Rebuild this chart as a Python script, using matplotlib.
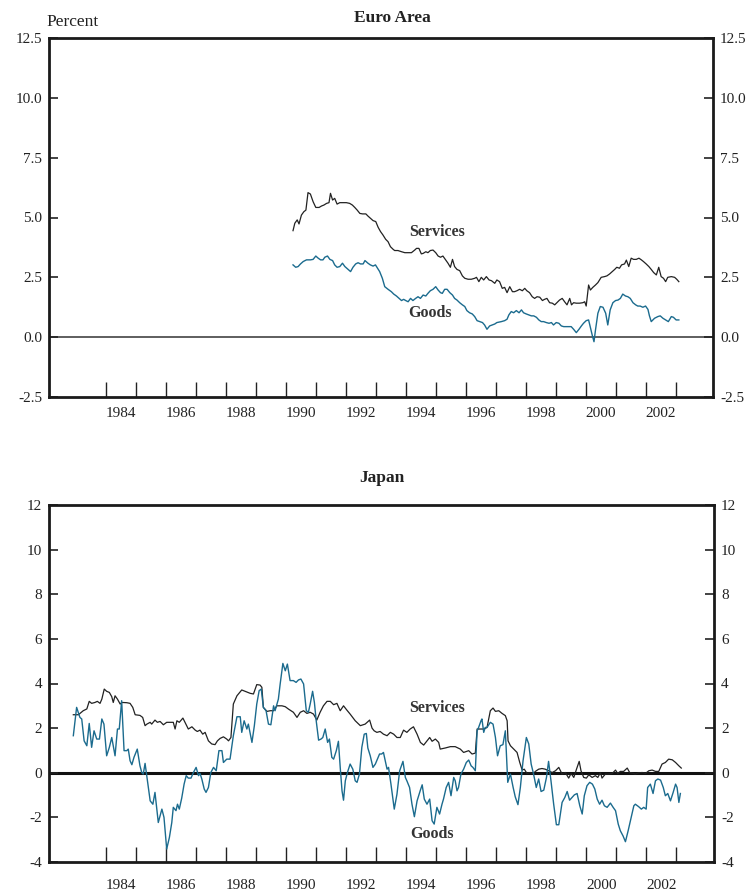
import matplotlib
matplotlib.use("Agg")
import matplotlib.pyplot as plt
from matplotlib.ticker import FixedLocator, FixedFormatter

# ---------------- data ----------------
# Euro Area, services (year, percent)
ea_serv_year = [1990.24, 1990.30, 1990.38, 1990.44, 1990.52, 1990.60, 1990.67, 1990.74, 1990.82, 1990.91,
                1991.00, 1991.11, 1991.19, 1991.27, 1991.36, 1991.44, 1991.49, 1991.56, 1991.63, 1991.71,
                1991.80, 1991.91, 1992.02, 1992.13, 1992.22, 1992.30, 1992.38, 1992.47, 1992.56, 1992.67,
                1992.74, 1992.82, 1992.91, 1993.00, 1993.08, 1993.16, 1993.24, 1993.33, 1993.41, 1993.49,
                1993.58, 1993.63, 1993.74, 1993.86, 1993.97, 1994.08, 1994.19, 1994.30, 1994.36, 1994.44,
                1994.52, 1994.58, 1994.67, 1994.74, 1994.82, 1994.91, 1995.00, 1995.08, 1995.16, 1995.24,
                1995.33, 1995.41, 1995.49, 1995.56, 1995.63, 1995.71, 1995.80, 1995.89, 1995.97, 1996.08,
                1996.19, 1996.30, 1996.36, 1996.44, 1996.52, 1996.60, 1996.69, 1996.78, 1996.86, 1996.97,
                1997.04, 1997.13, 1997.22, 1997.30, 1997.38, 1997.47, 1997.56, 1997.63, 1997.71, 1997.80,
                1997.89, 1997.97, 1998.04, 1998.13, 1998.22, 1998.30, 1998.38, 1998.47, 1998.56, 1998.63,
                1998.71, 1998.80, 1998.89, 1998.97, 1999.04, 1999.13, 1999.22, 1999.30, 1999.38, 1999.47,
                1999.53, 1999.60, 1999.69, 1999.80, 1999.91, 1999.97, 2000.02, 2000.10, 2000.16, 2000.24,
                2000.33, 2000.41, 2000.52, 2000.63, 2000.71, 2000.80, 2000.89, 2000.97, 2001.04, 2001.13,
                2001.20, 2001.30, 2001.36, 2001.44, 2001.52, 2001.60, 2001.69, 2001.78, 2001.86, 2001.93,
                2002.02, 2002.11, 2002.19, 2002.27, 2002.36, 2002.44, 2002.52, 2002.60, 2002.67, 2002.74,
                2002.86, 2002.97, 2003.04, 2003.11]
ea_serv_val = [4.45, 4.76, 4.90, 4.73, 5.10, 5.24, 5.31, 6.04, 5.98, 5.66,
               5.42, 5.42, 5.48, 5.52, 5.59, 5.62, 6.01, 5.73, 5.80, 5.56,
               5.62, 5.62, 5.62, 5.59, 5.52, 5.42, 5.31, 5.17, 5.15, 5.15,
               5.06, 4.97, 4.87, 4.83, 4.59, 4.41, 4.27, 4.09, 3.99, 3.78,
               3.67, 3.62, 3.62, 3.57, 3.53, 3.53, 3.53, 3.64, 3.71, 3.71,
               3.48, 3.50, 3.57, 3.53, 3.62, 3.64, 3.53, 3.39, 3.34, 3.39,
               3.23, 3.09, 2.92, 3.25, 2.95, 2.83, 2.78, 2.56, 2.46, 2.42,
               2.42, 2.46, 2.50, 2.32, 2.50, 2.39, 2.53, 2.39, 2.36, 2.25,
               2.39, 2.32, 2.04, 2.08, 1.86, 2.11, 1.90, 1.90, 1.94, 2.00,
               1.94, 2.04, 1.94, 1.86, 1.69, 1.62, 1.69, 1.67, 1.53, 1.58,
               1.62, 1.44, 1.42, 1.35, 1.44, 1.55, 1.62, 1.48, 1.35, 1.62,
               1.35, 1.44, 1.42, 1.42, 1.44, 1.48, 1.30, 2.18, 1.97, 2.08,
               2.18, 2.28, 2.50, 2.53, 2.56, 2.64, 2.74, 2.83, 2.92, 2.88,
               3.02, 3.06, 3.22, 2.95, 3.30, 3.25, 3.25, 3.30, 3.23, 3.16,
               3.06, 2.95, 2.83, 2.70, 2.60, 2.92, 2.53, 2.46, 2.32, 2.50,
               2.53, 2.50, 2.42, 2.32]

# Euro Area, goods
ea_goods_year = [1990.24, 1990.33, 1990.41, 1990.49, 1990.58, 1990.69, 1990.82, 1990.91, 1991.00, 1991.08,
                 1991.16, 1991.24, 1991.30, 1991.39, 1991.47, 1991.56, 1991.63, 1991.71, 1991.80, 1991.89,
                 1991.97, 1992.08, 1992.16, 1992.24, 1992.33, 1992.41, 1992.49, 1992.58, 1992.64, 1992.74,
                 1992.82, 1992.91, 1992.99, 1993.06, 1993.13, 1993.22, 1993.30, 1993.41, 1993.52, 1993.60,
                 1993.69, 1993.78, 1993.86, 1993.93, 1994.00, 1994.08, 1994.16, 1994.24, 1994.33, 1994.41,
                 1994.49, 1994.58, 1994.67, 1994.74, 1994.82, 1994.91, 1995.00, 1995.08, 1995.16, 1995.22,
                 1995.30, 1995.38, 1995.47, 1995.56, 1995.63, 1995.71, 1995.80, 1995.89, 1995.97, 1996.04,
                 1996.13, 1996.22, 1996.30, 1996.38, 1996.47, 1996.56, 1996.63, 1996.71, 1996.80, 1996.89,
                 1996.97, 1997.04, 1997.19, 1997.30, 1997.38, 1997.44, 1997.52, 1997.60, 1997.69, 1997.78,
                 1997.86, 1997.93, 1998.02, 1998.11, 1998.19, 1998.27, 1998.36, 1998.44, 1998.52, 1998.60,
                 1998.69, 1998.78, 1998.86, 1998.93, 1999.02, 1999.11, 1999.19, 1999.27, 1999.36, 1999.44,
                 1999.52, 1999.60, 1999.69, 1999.78, 1999.86, 1999.93, 2000.02, 2000.10, 2000.16, 2000.22,
                 2000.28, 2000.33, 2000.41, 2000.49, 2000.58, 2000.67, 2000.74, 2000.82, 2000.91, 2001.00,
                 2001.08, 2001.16, 2001.24, 2001.33, 2001.41, 2001.49, 2001.58, 2001.67, 2001.74, 2001.82,
                 2001.91, 2002.00, 2002.08, 2002.13, 2002.19, 2002.30, 2002.41, 2002.49, 2002.58, 2002.67,
                 2002.76, 2002.86, 2002.93, 2003.02, 2003.11]
ea_goods_val = [3.02, 2.92, 2.95, 3.06, 3.16, 3.23, 3.23, 3.25, 3.39, 3.30,
                3.23, 3.23, 3.34, 3.39, 3.25, 3.20, 3.02, 2.92, 2.95, 3.09,
                2.95, 2.83, 2.74, 2.92, 3.06, 3.11, 3.06, 3.06, 3.20, 3.09,
                3.02, 2.97, 3.02, 2.88, 2.74, 2.46, 2.11, 2.00, 1.90, 1.80,
                1.72, 1.62, 1.53, 1.58, 1.53, 1.48, 1.62, 1.53, 1.62, 1.69,
                1.62, 1.76, 1.72, 1.83, 1.94, 2.00, 2.11, 1.97, 1.86, 1.83,
                2.00, 2.00, 1.86, 1.76, 1.62, 1.55, 1.44, 1.35, 1.28, 1.11,
                1.02, 0.97, 0.86, 0.69, 0.65, 0.61, 0.51, 0.33, 0.47, 0.51,
                0.55, 0.61, 0.65, 0.69, 0.75, 0.93, 1.07, 1.02, 1.11, 1.02,
                1.14, 1.02, 0.97, 0.93, 0.89, 0.89, 0.83, 0.72, 0.65, 0.65,
                0.61, 0.58, 0.61, 0.51, 0.61, 0.58, 0.47, 0.44, 0.44, 0.44,
                0.44, 0.33, 0.19, 0.33, 0.47, 0.58, 0.69, 0.72, 0.41, 0.09,
                -0.19, 0.30, 1.00, 1.28, 1.25, 1.00, 0.51, 1.14, 1.44, 1.53,
                1.55, 1.62, 1.80, 1.72, 1.69, 1.62, 1.44, 1.35, 1.30, 1.30,
                1.25, 1.30, 1.16, 0.89, 0.65, 0.79, 0.86, 0.89, 0.79, 0.72,
                0.65, 0.86, 0.83, 0.72, 0.72]

# Japan, services
jp_serv_year = [1982.91, 1983.08, 1983.24, 1983.36, 1983.44, 1983.52, 1983.63, 1983.71, 1983.80, 1983.86,
                1983.94, 1984.02, 1984.11, 1984.19, 1984.24, 1984.30, 1984.38, 1984.47, 1984.53, 1984.69,
                1984.80, 1984.89, 1984.97, 1985.13, 1985.22, 1985.30, 1985.36, 1985.47, 1985.52, 1985.63,
                1985.71, 1985.80, 1985.91, 1986.02, 1986.24, 1986.30, 1986.36, 1986.44, 1986.56, 1986.63,
                1986.74, 1986.86, 1986.97, 1987.04, 1987.13, 1987.22, 1987.30, 1987.41, 1987.52, 1987.63,
                1987.71, 1987.80, 1987.91, 1988.02, 1988.08, 1988.16, 1988.24, 1988.36, 1988.52, 1988.63,
                1988.80, 1988.91, 1989.02, 1989.13, 1989.19, 1989.24, 1989.36, 1989.47, 1989.58, 1989.69,
                1989.86, 1989.97, 1990.08, 1990.24, 1990.36, 1990.47, 1990.58, 1990.69, 1990.80, 1990.91,
                1991.02, 1991.13, 1991.24, 1991.36, 1991.47, 1991.58, 1991.69, 1991.80, 1991.91, 1992.02,
                1992.13, 1992.30, 1992.47, 1992.63, 1992.78, 1992.86, 1992.93, 1993.02, 1993.13, 1993.24,
                1993.36, 1993.47, 1993.58, 1993.69, 1993.80, 1993.91, 1994.02, 1994.13, 1994.24, 1994.36,
                1994.47, 1994.58, 1994.69, 1994.78, 1994.86, 1994.97, 1995.08, 1995.13, 1995.30, 1995.47,
                1995.63, 1995.80, 1995.91, 1996.08, 1996.19, 1996.30, 1996.36, 1996.47, 1996.58, 1996.69,
                1996.80, 1996.89, 1996.97, 1997.08, 1997.19, 1997.30, 1997.36, 1997.39, 1997.47, 1997.58,
                1997.69, 1997.78, 1997.86, 1997.93, 1998.02, 1998.13, 1998.22, 1998.30, 1998.41, 1998.52,
                1998.63, 1998.74, 1998.86, 1998.97, 1999.08, 1999.19, 1999.30, 1999.41, 1999.49, 1999.58,
                1999.67, 1999.76, 1999.82, 1999.91, 2000.00, 2000.08, 2000.19, 2000.30, 2000.38, 2000.47,
                2000.52, 2000.63, 2000.74, 2000.86, 2000.97, 2001.04, 2001.13, 2001.24, 2001.36, 2001.44,
                2001.56, 2001.63, 2001.74, 2001.86, 2001.97, 2002.08, 2002.19, 2002.30, 2002.41, 2002.52,
                2002.63, 2002.74, 2002.86, 2002.97, 2003.08, 2003.16]
jp_serv_val = [2.60, 2.60, 2.78, 2.86, 3.20, 3.11, 3.15, 3.20, 3.11, 3.30,
               3.75, 3.65, 3.60, 3.41, 3.15, 3.45, 3.30, 3.08, 3.15, 3.14,
               3.11, 2.93, 2.60, 2.57, 2.48, 2.11, 2.18, 2.26, 2.18, 2.36,
               2.26, 2.30, 2.15, 2.26, 2.26, 1.96, 2.33, 2.26, 2.45, 2.26,
               1.96, 2.06, 1.91, 1.85, 1.91, 1.73, 1.81, 1.43, 1.29, 1.26,
               1.43, 1.54, 1.61, 1.51, 1.43, 1.58, 3.08, 3.45, 3.71, 3.65,
               3.56, 3.53, 3.95, 3.93, 3.83, 2.93, 2.75, 2.78, 2.78, 3.00,
               3.00, 2.96, 2.85, 2.71, 2.48, 2.71, 2.78, 2.66, 2.71, 2.63,
               2.36, 2.71, 3.00, 3.20, 3.20, 3.05, 3.11, 2.78, 3.00, 2.81,
               2.63, 2.33, 2.11, 2.18, 2.36, 2.00, 1.88, 1.81, 1.85, 1.73,
               1.66, 1.81, 1.73, 1.58, 1.58, 1.91, 1.81, 1.96, 2.06, 1.73,
               1.36, 1.24, 1.43, 1.58, 1.41, 1.51, 1.36, 1.06, 1.11, 1.17,
               1.17, 1.06, 0.91, 0.99, 0.84, 0.88, 1.96, 1.96, 1.96, 2.03,
               2.78, 2.90, 2.75, 2.78, 2.66, 2.56, 2.33, 1.43, 1.21, 1.06,
               0.91, 0.46, 0.12, 0.16, -0.03, 0.01, -0.06, 0.06, 0.16, 0.19,
               0.16, 0.09, 0.01, 0.09, 0.24, -0.06, 0.01, -0.24, -0.03, -0.21,
               0.16, 0.51, 0.09, -0.21, -0.24, -0.09, -0.21, -0.13, -0.21, 0.01,
               -0.24, -0.06, -0.06, -0.03, 0.12, -0.03, 0.06, 0.06, 0.21, 0.01,
               -0.03, -0.06, 0.00, 0.01, -0.03, 0.09, 0.12, 0.06, 0.06, 0.39,
               0.46, 0.61, 0.58, 0.46, 0.31, 0.21]

# Japan, goods
jp_goods_year = [1982.91, 1983.02, 1983.13, 1983.19, 1983.27, 1983.36, 1983.44, 1983.52, 1983.60, 1983.69,
                 1983.78, 1983.86, 1983.93, 1984.02, 1984.11, 1984.19, 1984.30, 1984.38, 1984.44, 1984.52,
                 1984.60, 1984.69, 1984.74, 1984.80, 1984.86, 1984.93, 1985.04, 1985.13, 1985.19, 1985.24,
                 1985.30, 1985.38, 1985.47, 1985.56, 1985.63, 1985.74, 1985.86, 1985.93, 1986.02, 1986.11,
                 1986.19, 1986.24, 1986.33, 1986.38, 1986.44, 1986.52, 1986.60, 1986.67, 1986.74, 1986.83,
                 1986.91, 1987.00, 1987.08, 1987.13, 1987.19, 1987.27, 1987.33, 1987.41, 1987.49, 1987.58,
                 1987.67, 1987.76, 1987.86, 1987.91, 1988.02, 1988.13, 1988.24, 1988.36, 1988.47, 1988.52,
                 1988.60, 1988.69, 1988.74, 1988.86, 1988.94, 1989.02, 1989.10, 1989.17, 1989.24, 1989.33,
                 1989.41, 1989.49, 1989.58, 1989.63, 1989.74, 1989.80, 1989.89, 1989.97, 1990.04, 1990.13,
                 1990.24, 1990.33, 1990.41, 1990.49, 1990.58, 1990.67, 1990.74, 1990.80, 1990.88, 1990.94,
                 1991.00, 1991.08, 1991.16, 1991.22, 1991.30, 1991.38, 1991.44, 1991.52, 1991.58, 1991.67,
                 1991.74, 1991.80, 1991.86, 1991.91, 1991.97, 1992.04, 1992.13, 1992.22, 1992.30, 1992.36,
                 1992.44, 1992.52, 1992.60, 1992.67, 1992.72, 1992.80, 1992.89, 1992.97, 1993.04, 1993.11,
                 1993.18, 1993.24, 1993.30, 1993.36, 1993.41, 1993.49, 1993.60, 1993.69, 1993.78, 1993.89,
                 1993.97, 1994.02, 1994.11, 1994.19, 1994.27, 1994.36, 1994.47, 1994.53, 1994.60, 1994.69,
                 1994.78, 1994.86, 1994.93, 1995.02, 1995.11, 1995.19, 1995.24, 1995.33, 1995.41, 1995.49,
                 1995.58, 1995.63, 1995.69, 1995.74, 1995.82, 1995.91, 1996.00, 1996.08, 1996.16, 1996.22,
                 1996.30, 1996.36, 1996.41, 1996.49, 1996.52, 1996.58, 1996.63, 1996.69, 1996.80, 1996.89,
                 1996.97, 1997.04, 1997.13, 1997.22, 1997.30, 1997.38, 1997.47, 1997.56, 1997.63, 1997.72,
                 1997.80, 1997.89, 1998.00, 1998.08, 1998.16, 1998.24, 1998.33, 1998.41, 1998.49, 1998.58,
                 1998.67, 1998.74, 1998.82, 1998.91, 1999.00, 1999.08, 1999.19, 1999.28, 1999.36, 1999.44,
                 1999.52, 1999.60, 1999.69, 1999.78, 1999.86, 1999.93, 2000.02, 2000.11, 2000.20, 2000.28,
                 2000.36, 2000.44, 2000.52, 2000.60, 2000.69, 2000.80, 2000.89, 2000.97, 2001.06, 2001.13,
                 2001.22, 2001.30, 2001.39, 2001.49, 2001.58, 2001.63, 2001.74, 2001.83, 2001.91, 2001.99,
                 2002.04, 2002.13, 2002.22, 2002.30, 2002.38, 2002.47, 2002.56, 2002.63, 2002.71, 2002.80,
                 2002.89, 2002.97, 2003.02, 2003.08, 2003.13]
jp_goods_val = [1.66, 2.93, 2.48, 2.41, 1.43, 1.21, 2.21, 1.14, 1.88, 1.51,
                1.51, 2.41, 2.18, 0.76, 1.14, 1.58, 0.76, 1.96, 1.96, 3.23,
                0.99, 0.99, 1.06, 0.54, 0.36, 0.69, 1.06, 0.31, 0.01, -0.06,
                0.42, -0.36, -1.26, -1.41, -0.88, -2.23, -1.63, -2.00, -3.42, -2.90,
                -2.23, -1.55, -1.70, -1.41, -1.63, -1.14, -0.51, -0.13, -0.24, -0.24,
                0.01, 0.24, -0.13, -0.03, -0.28, -0.73, -0.88, -0.66, 0.01, 0.24,
                0.09, 0.99, 0.99, 0.46, 0.61, 0.61, 1.66, 2.51, 2.51, 1.81,
                2.33, 1.96, 2.18, 1.36, 2.11, 3.08, 3.68, 3.75, 2.93, 2.78,
                2.18, 2.15, 3.00, 2.78, 3.30, 3.98, 4.90, 4.57, 4.87, 4.13,
                4.13, 4.05, 4.16, 4.20, 3.98, 2.78, 2.71, 3.08, 3.65, 3.15,
                2.33, 1.46, 1.51, 1.58, 1.96, 1.36, 1.51, 0.69, 0.61, 0.99,
                1.41, 0.24, -0.81, -1.23, -0.36, 0.01, 0.39, 0.16, -0.36, -0.43,
                -0.06, 1.14, 1.73, 1.76, 1.11, 0.76, 0.24, 0.39, 0.61, 0.84,
                0.84, 0.91, 0.54, 0.16, 0.24, -0.51, -1.63, -0.96, 0.09, 0.51,
                -0.21, -0.36, -0.66, -1.41, -1.97, -1.26, -0.78, -0.54, -1.18, -1.41,
                -1.18, -2.15, -2.30, -1.55, -1.85, -1.41, -1.18, -0.66, -0.43, -1.03,
                -0.21, -0.36, -0.81, -0.66, -0.06, 0.16, 0.46, 0.57, 0.31, 0.24,
                0.09, 1.88, 2.03, 2.33, 2.41, 1.81, 2.03, 2.03, 2.26, 2.18,
                1.58, 0.76, 1.21, 1.26, 1.88, -0.43, -0.06, -0.66, -1.08, -1.43,
                -0.66, 0.54, 1.58, 1.29, 0.39, -0.06, -0.66, -0.28, -0.84, -0.78,
                -0.21, 0.51, -0.36, -1.41, -2.33, -2.33, -1.33, -1.11, -0.84, -1.23,
                -1.11, -0.99, -0.93, -1.48, -1.85, -1.03, -0.58, -0.43, -0.51, -0.73,
                -1.18, -1.41, -1.23, -1.48, -1.55, -1.36, -1.55, -1.70, -2.30, -2.60,
                -2.83, -3.09, -2.60, -2.00, -1.48, -1.41, -1.52, -1.63, -1.55, -1.63,
                -0.66, -0.51, -0.93, -0.36, -0.28, -0.33, -0.66, -1.03, -0.93, -1.26,
                -0.88, -0.51, -0.66, -1.33, -0.93]

year_ticks = list(range(1984, 2004))
year_labels = [str(y) for y in range(1984, 2003, 2)]
ea_yticks = [-2.5, 0.0, 2.5, 5.0, 7.5, 10.0, 12.5]
ea_ylabels = ["-2.5", "0.0", "2.5", "5.0", "7.5", "10.0", "12.5"]
jp_yticks = [-4, -2, 0, 2, 4, 6, 8, 10, 12]
jp_ylabels = ["-4", "-2", "0", "2", "4", "6", "8", "10", "12"]

# ---------------- style ----------------
SERIF = ["Liberation Serif", "DejaVu Serif"]
plt.rcParams["font.family"] = SERIF
SERV_C = "#222222"
GOODS_C = "#1b6b8e"
SPINE_C = "#1a1a1a"

W, H = 752, 891
fig = plt.figure(figsize=(W / 100, H / 100), dpi=100)
ax1 = fig.add_axes([49 / W, 1 - 397 / H, 664 / W, 359 / H])
ax2 = fig.add_axes([49 / W, 1 - 862 / H, 665 / W, 357 / H])


def style(ax, yticks, ylabels, ylim, xpad):
    ax.set_xlim(1982.1, 2004.25)
    ax.set_ylim(*ylim)
    for s in ax.spines.values():
        s.set_linewidth(2.0)
        s.set_color(SPINE_C)
    ax.yaxis.set_major_locator(FixedLocator(yticks))
    ax.yaxis.set_major_formatter(FixedFormatter(ylabels))
    ax.tick_params(axis="y", which="major", direction="in", length=6.5, width=1.2,
                   left=True, right=True, labelleft=True, labelright=True,
                   labelsize=11, pad=5, colors="#222222")
    ax.xaxis.set_major_locator(FixedLocator(year_ticks))
    ax.xaxis.set_minor_locator(FixedLocator([int(l) + 0.5 for l in year_labels]))
    ax.xaxis.set_major_formatter(FixedFormatter([""] * len(year_ticks)))
    ax.xaxis.set_minor_formatter(FixedFormatter(year_labels))
    ax.tick_params(axis="x", which="major", direction="in", length=11, width=1.0,
                   color="#222222", bottom=True, top=False)
    ax.tick_params(axis="x", which="minor", length=0, labelsize=11, pad=xpad,
                   labelcolor="#222222")


style(ax1, ea_yticks, ea_ylabels, (-2.5, 12.5), 7)
style(ax2, jp_yticks, jp_ylabels, (-4, 12), 12)

ax1.axhline(0, color="#333333", lw=1.1, zorder=1)
ax1.plot(ea_serv_year, ea_serv_val, color=SERV_C, lw=0.9, zorder=3)
ax1.plot(ea_goods_year, ea_goods_val, color=GOODS_C, lw=1.0, zorder=3)
ax1.text(1995.03, 4.4, "Services", ha="center", va="center", fontsize=11.5,
         fontweight="bold", color="#333333")
ax1.text(1994.8, 1.0, "Goods", ha="center", va="center", fontsize=11.5,
         fontweight="bold", color="#333333")

ax2.axhline(0, color="#111111", lw=2.2, zorder=1)
ax2.plot(jp_serv_year, jp_serv_val, color=SERV_C, lw=0.9, zorder=3)
ax2.plot(jp_goods_year, jp_goods_val, color=GOODS_C, lw=1.0, zorder=3)
ax2.text(1995.03, 2.9, "Services", ha="center", va="center", fontsize=11.5,
         fontweight="bold", color="#333333")
ax2.text(1994.87, -2.74, "Goods", ha="center", va="center", fontsize=11.5,
         fontweight="bold", color="#333333")

fig.text(392 / W, 1 - 18 / H, "Euro Area", ha="center", va="center", fontsize=12.5,
         fontweight="bold", color="#222222")
fig.text(382 / W, 1 - 478 / H, "Japan", ha="center", va="center", fontsize=12.5,
         fontweight="bold", color="#222222")
fig.text(46 / W, 1 - 22 / H, "Percent", ha="left", va="center", fontsize=12.5,
         color="#222222")

fig.savefig("out.png", dpi=100)
